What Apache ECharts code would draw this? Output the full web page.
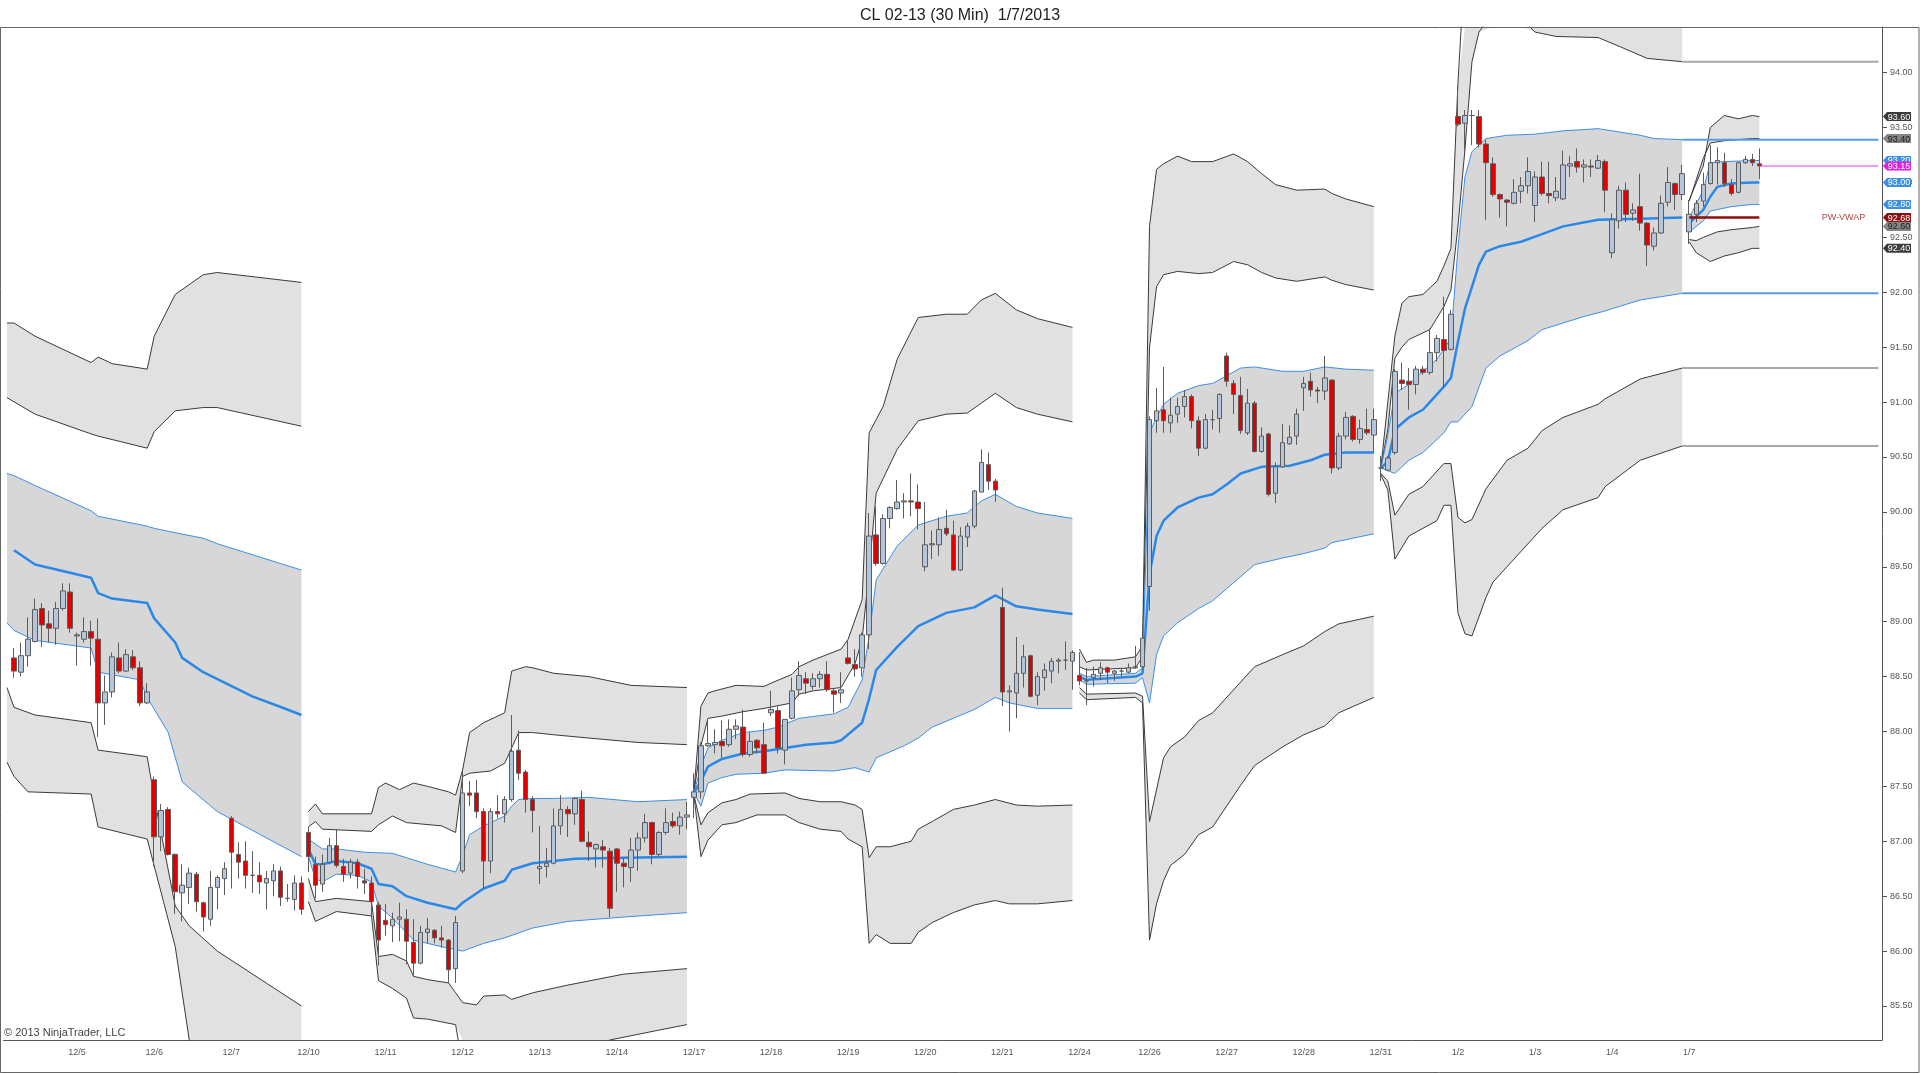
<!DOCTYPE html>
<html lang="en">
<head>
<meta charset="UTF-8">
<style>
    html, body { height: 100%; margin: 0; background: #fff; }
    #chart { width: 100%; height: 100%; }
</style>
</head>
<body>
<div id="chart"></div>
<script src="https://cdn.jsdelivr.net/npm/echarts@6/dist/echarts.min.js"></script>
<script>
// sessions shown on the time axis (first one is cut off on the left)
var dayNames = ['12/4','12/5','12/6','12/7','12/10','12/11','12/12','12/13','12/14','12/17','12/18','12/19','12/20','12/21',
    '12/24','12/26','12/27','12/28','12/31','1/2','1/3','1/4','1/7'];
var barsPerDay = [9,11,11,11,11,11,11,11,11,11,11,11,11,11,10,11,11,11,11,11,11,11,11];
var leadSlots = 1, tailSlots = 17;

// 30 min bars: [open, close, low, high], one array per week
var candlesW1 = [
    [88.67,88.55,88.49,88.76],[88.54,88.69,88.50,88.81],[88.69,88.84,88.59,89.04],[88.82,89.11,88.81,89.21],[89.12,88.97,88.77,89.17],
    [88.98,88.94,88.81,89.10],[88.94,89.12,88.79,89.18],[89.12,89.28,89.10,89.35],[89.27,88.94,88.90,89.35],[88.87,88.88,88.60,88.90],
    [88.84,88.91,88.81,89.04],[88.91,88.85,88.60,89.01],[88.84,88.26,87.95,89.03],[88.26,88.36,88.06,88.51],[88.36,88.68,88.31,88.72],
    [88.67,88.55,88.53,88.81],[88.55,88.70,88.54,88.75],[88.68,88.58,88.56,88.74],[88.58,88.26,88.23,88.64],[88.26,88.36,88.25,88.44],
    [87.56,87.04,86.77,87.59],[87.04,87.28,86.91,87.34],[87.29,86.88,86.87,87.31],[86.88,86.54,86.34,86.89],[86.53,86.60,86.27,86.79],
    [86.58,86.71,86.43,86.76],[86.70,86.45,86.36,86.72],[86.44,86.31,86.18,86.45],[86.29,86.58,86.23,86.73],[86.58,86.67,86.38,86.69],
    [86.66,86.75,86.51,86.81],[87.21,86.90,86.57,87.23],[86.88,86.81,86.66,86.99],[86.82,86.69,86.57,87.00],[86.69,86.69,86.53,86.91],
    [86.69,86.63,86.52,86.81],[86.62,86.66,86.38,86.73],[86.64,86.73,86.50,86.79],[86.73,86.49,86.41,86.77],[86.48,86.48,86.45,86.61],
    [86.47,86.62,86.37,86.69],[86.62,86.38,86.33,86.68]
];
var candlesW2 = [
    [87.08,86.86,86.72,87.13],[86.79,86.60,86.48,86.86],[86.61,86.79,86.54,86.88],[86.81,86.96,86.79,87.03],[86.96,86.78,86.76,87.11],
    [86.77,86.70,86.63,86.84],[86.71,86.81,86.66,86.84],[86.81,86.68,86.57,86.84],[86.64,86.62,86.52,86.75],[86.62,86.45,86.32,86.68],
    [86.42,86.10,85.87,86.45],[86.28,86.24,86.14,86.43],[86.23,86.29,86.08,86.35],[86.29,86.31,86.09,86.44],[86.29,86.09,85.88,86.38],
    [86.08,85.89,85.77,86.29],[85.89,86.17,85.88,86.23],[86.17,86.20,86.07,86.30],[86.19,86.12,86.07,86.20],[86.12,86.10,86.03,86.23],
    [86.10,85.83,85.71,86.11],[85.84,86.26,85.71,86.32],[86.73,87.44,86.71,87.65],[87.44,87.42,87.32,87.55],[87.44,87.27,87.21,87.56],
    [87.27,86.82,86.57,87.30],[86.82,87.27,86.71,87.30],[87.27,87.25,87.21,87.42],[87.25,87.38,87.17,87.41],[87.38,87.82,87.36,88.15],
    [87.83,87.62,87.56,88.01],[87.63,87.38,87.26,87.65],[87.38,87.28,87.08,87.41],[86.75,86.77,86.61,87.14],[86.77,86.80,86.67,86.94],
    [86.80,87.14,86.79,87.30],[87.14,87.29,87.06,87.42],[87.29,87.25,87.04,87.32],[87.25,87.39,87.15,87.40],[87.38,87.00,86.99,87.46],
    [86.99,86.95,86.82,87.09],[86.93,86.97,86.76,86.98],[86.95,86.92,86.76,87.01],[86.91,86.39,86.31,86.94],[86.93,86.80,86.54,86.94],
    [86.80,86.77,86.58,86.85],[86.76,86.92,86.63,87.03],[86.92,87.03,86.73,87.08],[87.03,87.17,86.99,87.25],[87.17,86.88,86.79,87.18],
    [86.88,87.08,86.86,87.09],[87.08,87.17,87.06,87.30],[87.18,87.14,87.12,87.26],[87.14,87.22,87.06,87.27],[87.22,87.24,87.11,87.36]
];
var candlesW3 = [
    [87.40,87.45,87.21,87.62],[87.45,87.87,87.39,87.90],[87.87,87.89,87.86,88.11],[87.88,87.90,87.80,88.02],[87.91,87.87,87.76,88.10],
    [87.88,88.02,87.86,88.11],[88.02,88.05,87.93,88.11],[88.04,87.79,87.77,88.20],[87.79,87.91,87.77,87.99],[87.92,87.85,87.80,87.93],
    [87.88,87.62,87.61,88.08],[88.17,88.20,88.14,88.37],[88.19,87.85,87.80,88.23],[87.83,88.11,87.70,88.11],[88.12,88.37,88.11,88.49],
    [88.38,88.51,88.32,88.64],[88.48,88.44,88.34,88.54],[88.41,88.48,88.38,88.53],[88.48,88.52,88.40,88.55],[88.52,88.38,88.36,88.64],
    [88.37,88.34,88.17,88.39],[88.35,88.38,88.26,88.54],[88.67,88.62,88.61,88.83],[88.61,88.57,88.50,88.75],[88.58,88.88,88.50,88.90],
    [88.88,89.78,88.75,89.99],[89.79,89.53,89.51,90.05],[89.53,89.94,89.52,89.98],[89.94,90.04,89.85,90.05],[90.03,90.09,90.02,90.29],
    [90.09,90.10,89.94,90.17],[90.10,90.09,89.96,90.35],[90.09,90.03,89.84,90.25],[89.50,89.70,89.46,90.09],[89.70,89.71,89.57,89.83],
    [89.70,89.84,89.60,89.95],[89.85,89.80,89.78,90.02],[89.79,89.47,89.46,89.92],[89.47,89.78,89.46,89.86],[89.77,89.87,89.68,89.90],
    [89.87,90.19,89.85,90.20],[90.18,90.45,90.18,90.57],[90.43,90.28,90.20,90.54],[90.28,90.20,90.09,90.30],[89.13,88.36,88.23,89.31],
    [88.36,88.37,88.00,88.42],[88.35,88.53,88.12,88.86],[88.53,88.68,88.40,88.79],[88.69,88.32,88.31,88.70],[88.33,88.50,88.24,88.54],
    [88.49,88.56,88.37,88.62],[88.55,88.64,88.44,88.67],[88.64,88.65,88.53,88.67],[88.65,88.65,88.56,88.82],[88.64,88.72,88.38,88.74]
];
var candlesW4 = [
    [88.51,88.46,88.42,88.72],[88.46,88.46,88.24,88.58],[88.49,88.52,88.41,88.59],[88.53,88.58,88.47,88.63],[88.58,88.54,88.44,88.59],
    [88.53,88.55,88.46,88.56],[88.55,88.55,88.50,88.58],[88.54,88.58,88.53,88.62],[88.58,88.59,88.57,88.78],[88.59,88.85,88.58,88.87],
    [89.32,90.84,89.10,90.87],[90.83,90.92,90.72,91.13],[90.93,90.83,90.72,91.32],[90.81,90.88,90.72,91.04],[90.89,90.96,90.81,91.04],
    [90.96,91.05,90.86,91.11],[91.05,90.83,90.76,91.07],[90.83,90.58,90.51,90.87],[90.58,90.84,90.57,90.89],[90.84,90.84,90.75,90.93],
    [90.85,91.07,90.72,91.08],[91.42,91.19,91.14,91.45],[91.17,91.07,90.89,91.20],[91.06,90.74,90.71,91.23],[90.72,90.99,90.70,91.12],
    [90.99,90.55,90.54,91.01],[90.55,90.69,90.54,90.77],[90.71,90.16,90.14,90.72],[90.17,90.41,90.08,90.45],[90.41,90.63,90.40,90.80],
    [90.62,90.68,90.61,90.79],[90.69,90.89,90.61,90.94],[91.13,91.17,90.92,91.23],[91.19,91.11,91.05,91.27],[91.11,91.10,90.99,91.14],
    [91.10,91.22,91.02,91.42],[91.20,90.40,90.35,91.21],[90.40,90.69,90.38,90.72],[90.69,90.86,90.66,90.91],[90.87,90.66,90.64,90.88],
    [90.66,90.76,90.62,90.84],[90.75,90.72,90.70,90.94],[90.70,90.84,90.54,90.94]
];
var candlesW5 = [
    [90.40,90.40,90.28,90.51],[90.38,90.49,90.37,90.51],[90.54,91.28,90.52,91.30],[91.20,91.17,91.11,91.36],[91.19,91.16,90.93,91.31],
    [91.16,91.30,91.07,91.33],[91.30,91.27,91.25,91.33],[91.27,91.45,91.25,91.67],[91.45,91.58,91.37,91.61],[91.57,91.47,91.13,91.96],
    [91.48,91.80,91.47,91.84],[93.60,93.53,93.51,93.88],[93.54,93.61,93.27,93.66],[93.61,93.61,93.34,93.66],[93.60,93.35,93.32,93.66],
    [93.35,93.18,92.66,93.39],[93.17,92.89,92.87,93.23],[92.89,92.85,92.68,92.90],[92.84,92.82,92.60,92.85],[92.81,92.91,92.80,93.03],
    [92.92,92.97,92.81,93.05],[92.97,93.10,92.90,93.23],[92.79,93.05,92.64,93.10],[93.05,92.90,92.88,93.19],[92.90,92.88,92.81,93.19],
    [92.86,92.92,92.83,93.05],[92.85,93.16,92.84,93.29],[93.15,93.17,93.05,93.24],[93.19,93.14,93.09,93.31],[93.14,93.16,93.00,93.21],
    [93.15,93.14,93.05,93.21],[93.13,93.20,93.12,93.25],[93.19,92.93,92.73,93.21],[92.36,92.66,92.31,92.72],[92.65,92.93,92.58,92.97],
    [92.93,92.71,92.64,93.00],[92.72,92.75,92.65,92.81],[92.78,92.63,92.56,93.08],[92.63,92.43,92.24,92.64],[92.42,92.54,92.38,92.59],
    [92.54,92.81,92.53,92.88],[92.82,93.00,92.78,93.14],[92.99,92.89,92.75,93.00],[92.89,93.08,92.84,93.16]
];
var candlesW6 = [
    [92.55,92.71,92.44,92.84],[92.71,92.81,92.64,92.84],[92.83,92.98,92.78,93.09],[92.99,93.18,92.98,93.34],[93.18,93.20,92.98,93.32],
    [93.18,92.99,92.96,93.27],[92.98,92.90,92.88,93.03],[92.91,93.18,92.90,93.19],[93.18,93.21,93.17,93.24],[93.21,93.18,93.15,93.26],
    [93.17,93.15,93.03,93.31]
];

// weekly VWAP and its +-1/2/3 sigma bands, [bar index, price]; null starts a new week
var upper3 = [
    [0,91.72],[1,91.72],[4,91.60],[12,91.36],[13,91.41],[15,91.35],[20,91.30],[21,91.60],[24,91.98],[28,92.16],[30,92.18],[42,92.09], null,
    [43,87.27],[44,87.34],[45,87.25],[52,87.25],[53,87.49],[54,87.53],[56,87.47],[58,87.53],[60,87.50],[63,87.45],[64,87.42],[65,87.65],
    [66,87.99],[68,88.08],[71,88.17],[72,88.55],[74,88.59],[75,88.58],[78,88.53],[83,88.50],[89,88.42],[97,88.40], null,
    [98,87.45],[99,88.23],[100,88.35],[101,88.37],[104,88.42],[108,88.41],[109,88.44],[112,88.52],[113,88.59],[115,88.65],[119,88.75],
    [120,88.84],[122,89.20],[123,90.72],[125,90.96],[127,91.39],[130,91.77],[134,91.80],[137,91.80],[139,91.93],[141,91.99],[144,91.84],
    [147,91.76],[152,91.68], null,
    [153,88.75],[154,88.63],[155,88.65],[158,88.65],[161,88.68],[162,88.78],[163,92.60],[164,93.12],[165,93.17],[167,93.24],[169,93.19],
    [172,93.19],[175,93.26],[177,93.19],[179,93.08],[181,92.98],[184,92.93],[188,92.94],[189,92.90],[191,92.85],[195,92.78], null,
    [196,90.40],[197,91.00],[198,91.60],[199,91.90],[200,91.96],[202,91.98],[204,92.10],[205,92.24],[206,92.40],[207,93.90],[208,95.00],
    [215,95.20],[239,94.85], null,
    [240,92.84],[242,93.15],[243,93.50],[245,93.61],[247,93.58],[249,93.61],[250,93.60]
];
var upper2 = [
    [0,91.04],[4,90.89],[12,90.71],[13,90.69],[20,90.58],[21,90.73],[24,90.92],[28,90.95],[30,90.95],[42,90.78], null,
    [43,87.13],[44,87.18],[45,87.11],[52,87.09],[53,87.15],[55,87.23],[57,87.17],[62,87.14],[64,87.08],[65,87.59],[66,87.62],[69,87.64],
    [71,87.71],[73,87.99],[75,87.99],[78,87.97],[83,87.94],[90,87.90],[97,87.88], null,
    [98,87.45],[99,87.87],[100,88.12],[102,88.14],[105,88.18],[108,88.21],[112,88.26],[113,88.34],[115,88.37],[119,88.40],[121,88.62],
    [122,88.84],[123,89.47],[124,90.17],[127,90.57],[130,90.83],[134,90.89],[137,90.90],[139,90.99],[141,91.08],[144,90.95],[147,90.89],
    [152,90.82], null,
    [153,88.59],[154,88.56],[161,88.58],[162,88.68],[163,91.50],[164,92.05],[165,92.16],[167,92.19],[170,92.17],[172,92.18],[175,92.28],
    [177,92.25],[179,92.18],[181,92.13],[184,92.10],[188,92.14],[189,92.11],[191,92.07],[195,92.02], null,
    [196,90.40],[197,90.75],[198,91.40],[199,91.50],[200,91.57],[203,91.66],[205,91.87],[206,92.02],[207,92.60],[208,93.30],[209,94.10],
    [210,94.37],[212,94.55],[216,94.50],[218,94.37],[221,94.33],[227,94.32],[230,94.24],[234,94.13],[239,94.10], null,
    [240,92.83],[242,93.22],[243,93.36],[245,93.38],[249,93.40],[250,93.40]
];
var upper1 = [
    [0,90.35],[1,90.33],[4,90.24],[12,90.01],[13,89.96],[20,89.87],[21,89.85],[24,89.81],[28,89.76],[30,89.71],[42,89.47], null,
    [43,87.02],[45,86.93],[47,86.93],[51,86.90],[55,86.89],[60,86.79],[64,86.72],[65,86.87],[66,87.06],[68,87.14],[71,87.23],[72,87.32],
    [73,87.38],[75,87.39],[78,87.39],[83,87.40],[90,87.36],[97,87.38], null,
    [98,87.44],[99,87.68],[100,87.85],[102,87.92],[105,87.99],[108,88.01],[110,88.04],[113,88.12],[118,88.16],[120,88.22],[122,88.47],
    [123,88.87],[124,89.38],[127,89.69],[130,89.88],[134,89.96],[137,89.99],[139,90.10],[141,90.16],[144,90.05],[147,89.99],[152,89.94], null,
    [153,88.53],[154,88.50],[161,88.53],[162,88.58],[163,90.72],[164,90.86],[165,90.98],[167,91.08],[170,91.15],[172,91.17],[174,91.24],
    [176,91.31],[178,91.32],[182,91.28],[185,91.28],[188,91.32],[191,91.30],[195,91.29], null,
    [196,90.40],[197,90.70],[198,91.08],[200,91.16],[202,91.28],[204,91.39],[206,91.58],[207,92.40],[208,93.05],[209,93.28],[211,93.40],
    [214,93.43],[218,93.44],[222,93.47],[227,93.49],[233,93.43],[235,93.40],[239,93.39], null,
    [240,92.68],[242,92.93],[243,93.18],[245,93.19],[249,93.20],[250,93.20]
];
var vwap = [
    [1,89.65],[4,89.52],[12,89.40],[13,89.26],[15,89.21],[20,89.17],[21,89.03],[24,88.81],[25,88.67],[28,88.54],[35,88.32],[40,88.20],
    [42,88.15], null,
    [43,86.93],[44,86.79],[45,86.79],[47,86.82],[50,86.80],[52,86.75],[53,86.61],[55,86.59],[57,86.50],[60,86.44],[64,86.38],[65,86.44],
    [68,86.57],[71,86.64],[72,86.74],[75,86.80],[78,86.82],[81,86.84],[88,86.85],[97,86.86], null,
    [98,87.44],[99,87.55],[100,87.68],[102,87.75],[105,87.80],[108,87.82],[111,87.85],[114,87.88],[118,87.90],[119,87.92],[122,88.08],
    [123,88.30],[124,88.56],[127,88.77],[130,88.96],[134,89.08],[138,89.13],[141,89.24],[144,89.14],[147,89.11],[152,89.07], null,
    [153,88.50],[154,88.47],[161,88.50],[162,88.53],[163,89.43],[164,89.78],[165,89.92],[167,90.04],[170,90.13],[172,90.16],[174,90.25],
    [176,90.35],[179,90.41],[183,90.42],[186,90.47],[188,90.52],[191,90.54],[195,90.54], null,
    [196,90.40],[197,90.46],[198,90.75],[200,90.86],[202,90.93],[203,91.00],[205,91.14],[206,91.22],[207,91.55],[208,91.85],[209,92.05],
    [210,92.25],[211,92.37],[213,92.42],[216,92.46],[219,92.53],[222,92.60],[227,92.66],[233,92.67],[239,92.68], null,
    [240,92.63],[242,92.75],[243,92.87],[244,92.96],[246,92.99],[249,93.00],[250,93.00]
];
var lower1 = [
    [0,88.99],[1,88.92],[4,88.83],[12,88.76],[13,88.54],[19,88.47],[20,88.31],[23,87.99],[25,87.54],[30,87.27],[42,86.86], null,
    [43,86.86],[44,86.66],[45,86.63],[47,86.70],[50,86.69],[52,86.63],[53,86.41],[55,86.30],[58,86.10],[60,86.07],[62,86.04],[65,86.00],
    [68,86.07],[71,86.12],[75,86.21],[80,86.27],[88,86.31],[97,86.35], null,
    [98,87.44],[99,87.32],[100,87.53],[102,87.58],[104,87.61],[108,87.62],[111,87.65],[118,87.64],[121,87.67],[123,87.63],[124,87.76],
    [128,87.87],[130,87.94],[132,88.04],[135,88.12],[138,88.20],[141,88.31],[143,88.26],[147,88.21],[152,88.21], null,
    [153,88.47],[154,88.43],[161,88.44],[162,88.49],[163,88.26],[164,88.70],[165,88.87],[167,88.99],[170,89.12],[172,89.19],[176,89.41],
    [178,89.52],[182,89.58],[185,89.62],[188,89.67],[189,89.72],[195,89.80], null,
    [196,90.40],[198,90.35],[200,90.47],[202,90.54],[205,90.72],[206,90.82],[207,90.82],[209,90.96],[211,91.31],[213,91.42],[215,91.49],
    [217,91.56],[219,91.66],[222,91.72],[225,91.78],[228,91.83],[230,91.87],[233,91.93],[236,91.96],[239,91.99], null,
    [240,92.55],[242,92.65],[243,92.74],[246,92.78],[249,92.80],[250,92.80]
];
var lower2 = [
    [0,88.40],[1,88.22],[4,88.15],[12,88.08],[13,87.83],[20,87.77],[21,87.40],[24,86.41],[26,86.23],[30,86.00],[42,85.50], null,
    [43,86.66],[44,86.45],[47,86.48],[52,86.45],[53,85.95],[55,85.97],[57,85.91],[58,85.77],[60,85.74],[63,85.71],[64,85.62],[65,85.53],
    [67,85.51],[68,85.59],[71,85.60],[72,85.56],[75,85.62],[80,85.69],[88,85.79],[97,85.84], null,
    [98,87.42],[99,87.15],[100,87.26],[102,87.35],[104,87.38],[106,87.43],[111,87.44],[113,87.39],[116,87.36],[119,87.36],[121,87.33],
    [122,87.29],[123,86.85],[124,86.95],[126,86.95],[129,87.00],[130,87.11],[132,87.18],[135,87.29],[138,87.33],[141,87.38],[144,87.33],
    [147,87.32],[152,87.33], null,
    [153,88.40],[154,88.34],[161,88.35],[162,88.32],[163,87.18],[165,87.76],[166,87.86],[168,87.95],[170,88.10],[172,88.17],[176,88.45],
    [178,88.59],[182,88.70],[185,88.78],[188,88.91],[190,88.98],[195,89.05], null,
    [196,90.35],[197,90.28],[198,89.97],[200,90.16],[202,90.23],[203,90.30],[205,90.44],[206,90.44],[207,89.95],[208,89.90],[209,89.93],
    [211,90.21],[214,90.47],[217,90.58],[219,90.74],[222,90.86],[227,90.98],[228,91.03],[233,91.21],[239,91.31], null,
    [240,92.48],[241,92.47],[242,92.50],[244,92.55],[246,92.57],[249,92.59],[250,92.60]
];
var lower3 = [
    [0,87.72],[1,87.59],[3,87.45],[12,87.43],[13,87.13],[20,87.02],[24,86.04],[26,85.19],[30,84.80],[42,84.40], null,
    [43,86.45],[44,86.27],[47,86.36],[52,86.32],[53,85.73],[55,85.66],[57,85.57],[58,85.39],[60,85.38],[64,85.33],[65,84.95],[70,84.85],
    [80,85.00],[86,85.19],[93,85.28],[97,85.33], null,
    [98,87.42],[99,86.86],[100,87.01],[102,87.15],[104,87.17],[107,87.24],[111,87.24],[113,87.17],[116,87.11],[119,87.09],[120,87.02],
    [122,86.95],[123,86.07],[124,86.15],[126,86.07],[129,86.07],[130,86.17],[132,86.26],[135,86.35],[138,86.42],[141,86.46],[143,86.43],
    [147,86.43],[152,86.46], null,
    [153,88.35],[154,88.29],[161,88.31],[162,88.26],[163,86.10],[164,86.43],[165,86.64],[166,86.78],[168,86.88],[170,87.06],[172,87.13],
    [176,87.51],[178,87.69],[182,87.86],[185,87.97],[188,88.05],[190,88.17],[195,88.31], null,
    [196,90.34],[197,90.20],[198,89.57],[200,89.78],[202,89.85],[204,89.92],[205,90.06],[206,90.06],[207,89.08],[208,88.89],[209,88.87],
    [211,89.22],[212,89.36],[215,89.57],[219,89.85],[222,90.02],[227,90.13],[228,90.23],[233,90.47],[239,90.60], null,
    [240,92.46],[241,92.36],[243,92.28],[245,92.33],[247,92.36],[249,92.40],[250,92.40]
];

var priceTicks = [85.5,86,86.5,87,87.5,88,88.5,89,89.5,90,90.5,91,91.5,92,92.5,93,93.5,94];

// ---- build ----
var categories = [];
for (var i = 0; i < leadSlots; i++) categories.push('lead' + i);
dayNames.forEach(function (d, di) {
    for (var b = 0; b < barsPerDay[di]; b++) categories.push(d + '|' + b);
});
for (var i = 0; i < tailSlots; i++) categories.push('tail' + i);
var lastSlot = categories.length - 1;

var bars = [].concat(candlesW1, candlesW2, candlesW3, candlesW4, candlesW5, candlesW6);
var candleData = [];
for (var i = 0; i < leadSlots; i++) candleData.push('-');
bars.forEach(function (b) { candleData.push(b); });
while (candleData.length < categories.length) candleData.push('-');

function splitWeeks(arr) {
    var out = [[]];
    arr.forEach(function (p) {
        if (p === null) out.push([]); else out[out.length - 1].push(p);
    });
    return out;
}
var U3 = splitWeeks(upper3), U2 = splitWeeks(upper2), U1 = splitWeeks(upper1), VW = splitWeeks(vwap),
    L1 = splitWeeks(lower1), L2 = splitWeeks(lower2), L3 = splitWeeks(lower3);

var GRAY_FILL = '#e1e1e1', INNER_FILL = '#d7d7d7';
var fills = [];
for (var w = 0; w < U3.length; w++) {
    fills.push([U3[w], U2[w], GRAY_FILL]);
    fills.push([U1[w], L1[w], INNER_FILL]);
    fills.push([L2[w], L3[w], GRAY_FILL]);
}

var series = [];
series.push({
    type: 'custom',
    silent: true,
    clip: true,
    z: 1,
    data: fills.map(function (f, i) { return [i, 90]; }),
    renderItem: function (params, api) {
        var f = fills[params.dataIndex];
        var pts = f[0].map(function (p) { return api.coord(p); })
            .concat(f[1].slice().reverse().map(function (p) { return api.coord(p); }));
        var cs = params.coordSys;
        if (echarts.graphic.clipPointsByRect) {
            pts = echarts.graphic.clipPointsByRect(pts, { x: cs.x, y: cs.y, width: cs.width, height: cs.height });
        }
        return { type: 'polygon', shape: { points: pts }, style: { fill: f[2] } };
    }
});

function addLines(weeks, color, width) {
    weeks.forEach(function (seg) {
        series.push({
            type: 'line', data: seg, symbol: 'none', silent: true, z: 2,
            lineStyle: { color: color, width: width }
        });
    });
}
addLines(U3, '#3a3a3a', 1);
addLines(U2, '#3a3a3a', 1);
addLines(L2, '#3a3a3a', 1);
addLines(L3, '#3a3a3a', 1);
addLines(U1, '#3d8fe6', 1);
addLines(L1, '#3d8fe6', 1);
addLines(VW, '#2a88e8', 2.5);

series.push({
    type: 'candlestick',
    data: candleData,
    barWidth: 5,
    silent: true,
    z: 3,
    itemStyle: {
        color: '#b4c6dc', color0: '#e00000',
        borderColor: '#5c5c5c', borderColor0: '#5c5c5c', borderWidth: 1
    }
});

// prior week levels carried to the right edge
var priorWeek = U3.length - 2;
function lastOf(seg) { return seg[seg.length - 1]; }
var pwStart = lastOf(U1[priorWeek])[0];
var carried = [
    [lastOf(U2[priorWeek])[1], '#a8a8a8'],
    [lastOf(U1[priorWeek])[1], '#5a9be2'],
    [lastOf(L1[priorWeek])[1], '#5a9be2'],
    [lastOf(L2[priorWeek])[1], '#a8a8a8'],
    [lastOf(L3[priorWeek])[1], '#a8a8a8']
];
carried.forEach(function (c) {
    series.push({
        type: 'line', data: [[pwStart, c[0]], [lastSlot, c[0]]], symbol: 'none', silent: true, z: 4,
        lineStyle: { color: c[1], width: 2 }
    });
});

var thisWeek = U3.length - 1;
var pwVwap = lastOf(VW[priorWeek])[1];
var weekStart = VW[thisWeek][0][0], lastBar = leadSlots + bars.length - 1;
series.push({
    type: 'line', data: [[weekStart, pwVwap], [lastBar, pwVwap]], symbol: 'none', silent: true, z: 4,
    lineStyle: { color: '#8e0f0f', width: 2.5 }
});
series.push({
    type: 'scatter', data: [[lastBar + 12, pwVwap]], symbolSize: 0, silent: true, z: 4,
    label: { show: true, position: 'inside', formatter: 'PW-VWAP', color: '#8e1010', fontSize: 9,
        fontFamily: 'Liberation Sans Narrow, Liberation Sans, sans-serif' }
});
var lastClose = bars[bars.length - 1][1];
series.push({
    type: 'line', data: [[lastBar, lastClose], [lastSlot, lastClose]], symbol: 'none', silent: true, z: 4,
    lineStyle: { color: '#e23ce2', width: 1 }
});

// price markers on the axis
var tags = [
    [lastOf(U3[thisWeek])[1], '#3b3b3b', '#ffffff'],
    [lastOf(U2[thisWeek])[1], '#858585', '#1c1c1c'],
    [lastOf(U1[thisWeek])[1], '#3b8fe4', '#ffffff'],
    [lastOf(VW[thisWeek])[1], '#3b8fe4', '#ffffff'],
    [lastOf(L1[thisWeek])[1], '#3b8fe4', '#ffffff'],
    [pwVwap, '#8e0f0f', '#ffffff'],
    [lastOf(L2[thisWeek])[1], '#858585', '#1c1c1c'],
    [lastOf(L3[thisWeek])[1], '#3b3b3b', '#ffffff'],
    [lastClose, '#dd22dd', '#ffffff']
];
series.push({
    type: 'custom', silent: true, clip: false, z: 10,
    data: tags.map(function (t, i) { return [0, t[0]]; }),
    renderItem: function (params, api) {
        var t = tags[params.dataIndex];
        var y = api.coord([0, t[0]])[1];
        var x0 = params.coordSys.x + params.coordSys.width;
        return {
            type: 'group',
            children: [
                { type: 'polygon', shape: { points: [[x0 + 1, y], [x0 + 5, y - 4.5], [x0 + 29, y - 4.5], [x0 + 29, y + 4.5], [x0 + 5, y + 4.5]] },
                  style: { fill: t[1] } },
                { type: 'text', style: { text: t[0].toFixed(2), x: x0 + 17, y: y + 0.5, align: 'center', verticalAlign: 'middle',
                  fill: t[2], font: '9px "Liberation Sans Narrow", "Liberation Sans", sans-serif' } }
            ]
        };
    }
});

var myChart = echarts.init(document.getElementById('chart'));
myChart.setOption({
    animation: false,
    backgroundColor: '#fff',
    title: {
        text: 'CL 02-13 (30 Min)  1/7/2013',
        left: 'center', top: 3,
        textStyle: { fontSize: 16, fontWeight: 'normal', color: '#222', fontFamily: 'Liberation Sans, Arial, sans-serif' }
    },
    grid: { left: 3.5, right: 38, top: 27, bottom: 34 },
    xAxis: {
        type: 'category',
        data: categories,
        axisLine: { lineStyle: { color: '#555' } },
        axisTick: {
            alignWithLabel: true, length: 5, lineStyle: { color: '#555' },
            interval: function (idx, val) { return /\|0$/.test(val) && val !== dayNames[0] + '|0'; }
        },
        axisLabel: {
            color: '#555', fontSize: 9, margin: 8,
            fontFamily: 'Liberation Sans Narrow, Liberation Sans, sans-serif',
            interval: function (idx, val) { return /\|0$/.test(val) && val !== dayNames[0] + '|0'; },
            formatter: function (val) { return val.split('|')[0]; }
        },
        splitLine: { show: false }
    },
    yAxis: {
        type: 'value',
        position: 'right',
        min: 85.19, max: 94.416,
        axisLine: { show: true, lineStyle: { color: '#555' } },
        axisTick: { show: true, length: 5, customValues: priceTicks, lineStyle: { color: '#555' } },
        axisLabel: {
            customValues: priceTicks, color: '#555', fontSize: 9, margin: 8,
            fontFamily: 'Liberation Sans Narrow, Liberation Sans, sans-serif',
            formatter: function (v) { return v.toFixed(2); }
        },
        splitLine: { show: false }
    },
    graphic: [
        { type: 'rect', silent: true, z: 100, shape: { x: 0.5, y: 27.5, width: 1918.5, height: 1045 },
          style: { fill: 'none', stroke: '#666', lineWidth: 1 } },
        { type: 'text', silent: true, z: 100, left: 4, top: 1027,
          style: { text: '\u00a9 2013 NinjaTrader, LLC', fill: '#444', font: '11px "Liberation Sans Narrow", "Liberation Sans", sans-serif' } }
    ],
    series: series
});
</script>
</body>
</html>
